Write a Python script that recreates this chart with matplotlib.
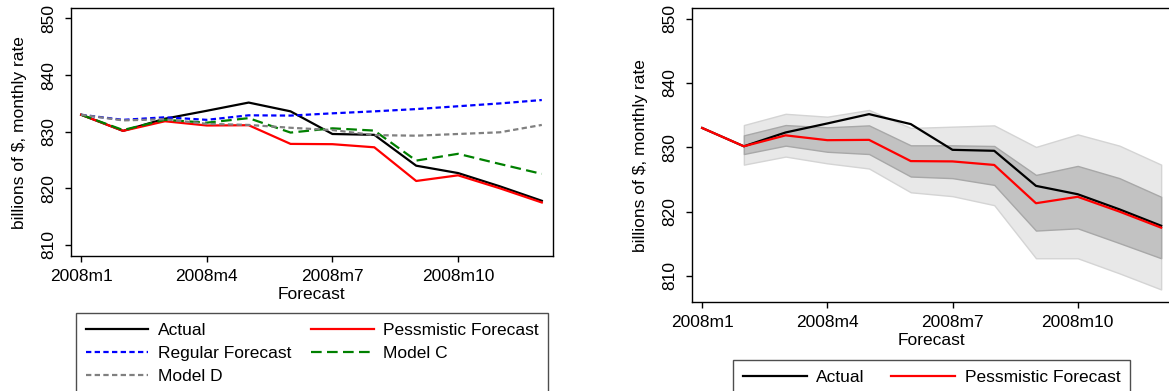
import numpy as np
import matplotlib
matplotlib.use('Agg')
import matplotlib.pyplot as plt

plt.rcParams['font.family'] = ['Liberation Sans', 'DejaVu Sans']
plt.rcParams['font.size'] = 12.5

# monthly forecast horizon, 2008m1 .. 2008m12
months = np.arange(1, 13)
tick_months = [1, 4, 7, 10]
tick_labels = ['2008m1', '2008m4', '2008m7', '2008m10']

actual = [833.0, 830.15, 832.3, 833.7, 835.15, 833.6, 829.6, 829.45, 824.0, 822.7, 820.35, 817.8]
pessimistic = [833.0, 830.15, 831.85, 831.1, 831.15, 827.85, 827.8, 827.25, 821.3, 822.3, 820.0, 817.5]
regular = [833.0, 832.1, 832.55, 832.1, 832.9, 832.85, 833.25, 833.6, 834.0, 834.5, 835.0, 835.6]
model_c = [833.0, 830.3, 832.1, 831.6, 832.4, 829.85, 830.6, 830.2, 824.9, 826.1, 824.3, 822.55]
model_d = [833.0, 832.0, 832.2, 831.4, 831.2, 830.7, 830.3, 829.4, 829.3, 829.6, 829.9, 831.2]

# fan bands around the pessimistic path, from 2008m2 on
band_months = np.arange(2, 13)
outer_hi = [833.45, 835.2, 834.75, 835.8, 833.0, 833.2, 833.4, 830.05, 832.0, 830.25, 827.3]
outer_lo = [827.3, 828.55, 827.5, 826.7, 823.0, 822.4, 821.0, 812.75, 812.75, 810.4, 807.9]
inner_hi = [831.85, 833.45, 833.1, 833.4, 830.3, 830.3, 830.2, 825.7, 827.1, 825.2, 822.3]
inner_lo = [828.95, 830.25, 829.3, 828.95, 825.45, 825.2, 824.15, 817.05, 817.4, 815.1, 812.75]

W, H = 1169, 391
fig = plt.figure(figsize=(W / 100, H / 100), dpi=100)

def px_axes(x0, y0, x1, y1):
    return fig.add_axes([x0 / W, 1 - y1 / H, (x1 - x0) / W, (y1 - y0) / H])

def style(ax, ylim):
    ax.set_xlim(0.75, 12.26)
    ax.set_ylim(*ylim)
    ax.set_xticks(tick_months)
    ax.set_xticklabels(tick_labels)
    ax.set_yticks([810, 820, 830, 840, 850])
    ax.tick_params(axis='both', direction='out', length=4, width=1, colors='black')
    ax.tick_params(axis='x', pad=5.5)
    ax.tick_params(axis='y', pad=6.5)
    for t in ax.get_yticklabels():
        t.set_rotation(90)
        t.set_va('center')
    for s in ax.spines.values():
        s.set_linewidth(1.0)
    ax.set_xlabel('Forecast', labelpad=2)
    ax.set_ylabel('billions of $, monthly rate', labelpad=10.5)

short_dash = (0, (2.4, 1.5))
long_dash = (0, (4.8, 2.4))
lw = 1.6

# left panel: all forecast models
ax1 = px_axes(70.7, 8.3, 552.7, 256)
l_act, = ax1.plot(months, actual, color='black', lw=lw)
l_pes, = ax1.plot(months, pessimistic, color='#ff0000', lw=lw)
l_reg, = ax1.plot(months, regular, color='#0000ff', lw=lw, ls=short_dash)
l_c, = ax1.plot(months, model_c, color='#008000', lw=lw, ls=long_dash)
l_d, = ax1.plot(months, model_d, color='#808080', lw=lw, ls=short_dash)
style(ax1, (808.05, 851.8))

# legend is filled column by column, so list entries in that order
leg1 = fig.legend([l_act, l_reg, l_d, l_pes, l_c],
                  ['Actual', 'Regular Forecast', 'Model D', 'Pessmistic Forecast', 'Model C'],
                  ncol=2, loc='upper left', bbox_to_anchor=(76.2 / W, 1 - 313.3 / H),
                  borderaxespad=0, frameon=True, fancybox=False, edgecolor='#222222',
                  handlelength=3.6, handletextpad=0.55, columnspacing=1.15,
                  labelspacing=0.45, borderpad=0.55)
leg1.get_frame().set_linewidth(1.0)

# right panel: actual vs pessimistic with uncertainty bands
ax2 = px_axes(691.7, 8.3, 1172, 302.3)
ax2.fill_between(band_months, outer_lo, outer_hi, facecolor='#e8e8e8', edgecolor='#d4d4d4', lw=1)
ax2.fill_between(band_months, inner_lo, inner_hi, facecolor='#c2c2c2', edgecolor='#a8a8a8', lw=1)
r_act, = ax2.plot(months, actual, color='black', lw=lw)
r_pes, = ax2.plot(months, pessimistic, color='#ff0000', lw=lw)
style(ax2, (805.9, 851.6))

leg2 = fig.legend([r_act, r_pes], ['Actual', 'Pessmistic Forecast'],
                  ncol=2, loc='upper left', bbox_to_anchor=(733.0 / W, 1 - 360 / H),
                  borderaxespad=0, frameon=True, fancybox=False, edgecolor='#222222',
                  handlelength=3.7, handletextpad=0.55, columnspacing=1.5,
                  borderpad=0.55)
leg2.get_frame().set_linewidth(1.0)

fig.savefig('out.png', dpi=100)
